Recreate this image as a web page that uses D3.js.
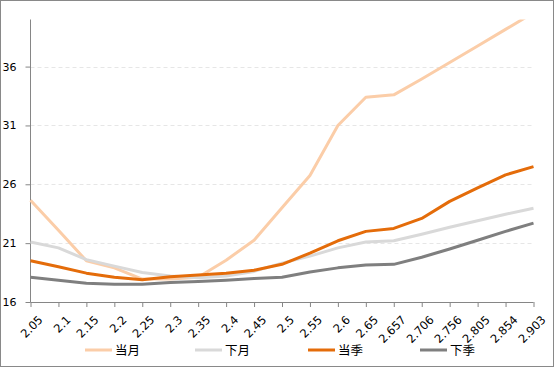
<!DOCTYPE html>
<html><head><meta charset="utf-8">
<script src="https://cdn.jsdelivr.net/npm/d3@7/dist/d3.min.js"></script>
<style>
html,body{margin:0;padding:0;background:#fff;}
svg{display:block;}
</style></head>
<body>
<svg id="chart" width="554" height="367"></svg>
<script>
const categories = ["2.05","2.1","2.15","2.2","2.25","2.3","2.35","2.4","2.45","2.5","2.55","2.6","2.65","2.657","2.706","2.756","2.805","2.854","2.903"];
const seriesNames = ["当月","下月","当季","下季"];
const dangYue = [24.65,22.1,19.5,18.9,17.95,17.95,18.1,19.55,21.25,24.0,26.75,31.0,33.4,33.6,34.95,36.35,37.75,39.16,40.57];
const xiaYue  = [21.1,20.6,19.6,19.05,18.5,18.2,18.05,18.2,18.6,19.3,19.9,20.6,21.1,21.2,21.75,22.35,22.9,23.45,23.97];
const dangJi  = [19.5,19.0,18.45,18.1,17.9,18.15,18.3,18.45,18.7,19.2,20.15,21.2,22.0,22.25,23.1,24.55,25.7,26.8,27.5];
const xiaJi   = [18.1,17.85,17.6,17.5,17.5,17.65,17.75,17.85,18.0,18.1,18.55,18.9,19.15,19.2,19.8,20.5,21.25,22.0,22.7];
const yTicks = [16,21,26,31,36];
const colors = ["#FBCDA8","#D9D9D9","#E46C0A","#7F7F7F"];

(function(){
const seriesData = [dangYue, xiaYue, dangJi, xiaJi];
const svg = d3.select("#chart");
const W = 554, H = 367;
const mLeft = 30.5, mRight = 533.5, mTop = 19.5, mBottom = 302;

svg.append("rect").attr("x",0.5).attr("y",0.5).attr("width",W-1).attr("height",H-1)
  .attr("fill","#fff").attr("stroke","#898989").attr("stroke-width",1);

const x = d3.scalePoint().domain(categories).range([mLeft,mRight]);
const y = d3.scaleLinear().domain([16,40]).range([mBottom,mTop]);

// gridlines
svg.append("g").selectAll("line").data(yTicks.filter(t=>t>16)).join("line")
  .attr("x1",mLeft).attr("x2",mRight-1)
  .attr("y1",d=>Math.round(y(d))+0.5).attr("y2",d=>Math.round(y(d))+0.5)
  .attr("stroke","#E6E6E6").attr("stroke-dasharray","4,3").attr("stroke-width",1);

svg.append("defs").append("clipPath").attr("id","clip")
  .append("rect").attr("x",mLeft-5).attr("y",mTop).attr("width",mRight-mLeft+10).attr("height",mBottom-mTop+5);

// y axis
const yAxis = d3.axisLeft(y).tickValues(yTicks).tickSize(5).tickPadding(9).tickFormat(d3.format("d"));
const gy = svg.append("g").attr("transform",`translate(${mLeft},0)`).call(yAxis);
gy.select(".domain").attr("stroke","#868686").attr("d",`M0,${mTop}V${mBottom}`);
gy.selectAll(".tick line").attr("stroke","#868686");
gy.selectAll(".tick text").attr("fill","#000").style("font-family","DejaVu Sans, sans-serif").style("font-size","11px");

// x axis
const xAxis = d3.axisBottom(x).tickSize(5).tickPadding(3);
const gx = svg.append("g").attr("transform",`translate(0,${mBottom})`).call(xAxis);
gx.select(".domain").attr("stroke","#868686").attr("d",`M${mLeft},0.5H${mRight}`);
gx.selectAll(".tick line").attr("stroke","#868686");
gx.selectAll(".tick text").attr("fill","#000")
  .style("font-family","DejaVu Sans, sans-serif").style("font-size","11.5px")
  .attr("text-anchor","end").attr("dy","0.35em")
  .attr("transform","translate(4,10) rotate(-45)");

// lines
const line = d3.line().x((d,i)=>x(categories[i])).y(d=>y(d));
const gl = svg.append("g").attr("clip-path","url(#clip)");
seriesData.forEach((s,i)=>{
  gl.append("path").datum(s).attr("d",line).attr("fill","none")
    .attr("stroke",colors[i]).attr("stroke-width",3).attr("stroke-linejoin","round");
});

// legend
const legX = [85,195,308,420];
const lg = svg.append("g");
seriesNames.forEach((n,i)=>{
  lg.append("line").attr("x1",legX[i]).attr("x2",legX[i]+27).attr("y1",350).attr("y2",350)
    .attr("stroke",colors[i]).attr("stroke-width",3);
  lg.append("text").attr("x",legX[i]+30).attr("y",350).attr("dy","0.36em")
    .style("font-family","Noto Sans CJK SC, sans-serif").style("font-size","12.5px").attr("fill","#000").text(n);
});
})();
</script>
</body></html>
